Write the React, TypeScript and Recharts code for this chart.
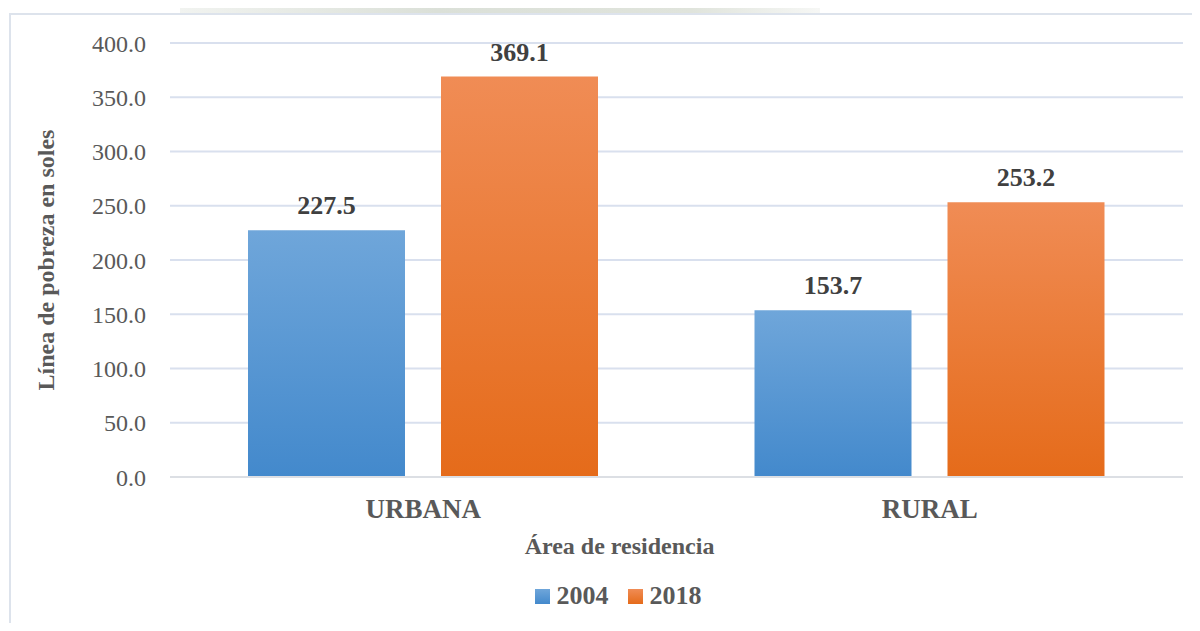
import React from 'react'
import { BarChart, Bar, XAxis, YAxis, CartesianGrid, Legend, LabelList } from 'recharts';

const areas = ['URBANA', 'RURAL'];
const values2004 = [227.5, 153.7];
const values2018 = [369.1, 253.2];
const yTicks = [0, 50, 100, 150, 200, 250, 300, 350, 400];

const data = areas.map((area, i) => ({ area, y2004: values2004[i], y2018: values2018[i] }));

const FONT = 'Liberation Serif, Times New Roman, serif';

const LegendBox = () => (
  <div style={{ display: 'flex', justifyContent: 'center', alignItems: 'center', height: 30, marginLeft: 33, fontFamily: FONT, fontWeight: 'bold', fontSize: 26, color: '#595959' }}>
    <span style={{ width: 15, height: 15, background: 'linear-gradient(#6fa6da, #4389cc)', marginRight: 7 }} />
    <span style={{ marginRight: 19 }}>2004</span>
    <span style={{ width: 15, height: 15, background: 'linear-gradient(#f08c55, #e56b1a)', marginRight: 7 }} />
    <span>2018</span>
  </div>
);

const App = () => {
  return (
    <div style={{ position: 'relative', width: 1200, height: 631, margin: -8, background: '#fff', overflow: 'hidden' }}>
      <div style={{ position: 'absolute', left: 180, top: 0, width: 640, height: 13, background: 'linear-gradient(90deg, #f1f3f0, #dbe0d8 40%, #e0e4dc 80%, #f6f7f5)' }} />
      <div style={{ position: 'absolute', left: 9, top: 13, width: 1300, height: 700, border: '2px solid #dde3ec' }} />
      <div style={{ position: 'absolute', left: 0, top: 0 }}>
        <BarChart width={1200} height={631} data={data}
          margin={{ top: 43, right: 17, bottom: 20, left: 20 }}
          barGap={36} barSize={157}>
          <defs>
            <linearGradient id="g2004" x1="0" y1="0" x2="0" y2="1">
              <stop offset="0%" stopColor="#6fa6da" />
              <stop offset="100%" stopColor="#4389cc" />
            </linearGradient>
            <linearGradient id="g2018" x1="0" y1="0" x2="0" y2="1">
              <stop offset="0%" stopColor="#f08c55" />
              <stop offset="100%" stopColor="#e56b1a" />
            </linearGradient>
          </defs>
          <CartesianGrid vertical={false} stroke="#d9e0ee" strokeWidth={2} />
          <XAxis dataKey="area" height={104} tickLine={false} tickSize={0} tickMargin={22}
            axisLine={{ stroke: '#dcdfe4', strokeWidth: 2 }}
            tick={{ fill: '#595959', fontSize: 27, fontWeight: 'bold', fontFamily: FONT }}
            label={{ value: 'Área de residencia', position: 'insideBottom', offset: 27, dx: -57, fill: '#595959', fontSize: 24, fontWeight: 'bold', fontFamily: FONT }} />
          <YAxis width={150} domain={[0, 400]} ticks={yTicks} tickLine={false} axisLine={false}
            tickSize={0} tickMargin={24} tickFormatter={(v: number) => v.toFixed(1)}
            tick={{ fill: '#595959', fontSize: 24, fontFamily: FONT }}
            label={{ value: 'Línea de pobreza en soles', angle: -90, position: 'insideLeft', offset: 25, fill: '#595959', fontSize: 24, fontWeight: 'bold', fontFamily: FONT, style: { textAnchor: 'middle' } }} />
          <Legend verticalAlign="bottom" content={() => <LegendBox />} />
          <Bar dataKey="y2004" name="2004" fill="url(#g2004)" isAnimationActive={false}>
            <LabelList dataKey="y2004" position="top" offset={16} formatter={(v: any) => Number(v).toFixed(1)}
              style={{ fill: '#404040', fontSize: 26, fontWeight: 'bold', fontFamily: FONT }} />
          </Bar>
          <Bar dataKey="y2018" name="2018" fill="url(#g2018)" isAnimationActive={false}>
            <LabelList dataKey="y2018" position="top" offset={16} formatter={(v: any) => Number(v).toFixed(1)}
              style={{ fill: '#404040', fontSize: 26, fontWeight: 'bold', fontFamily: FONT }} />
          </Bar>
        </BarChart>
      </div>
    </div>
  );
}

export default App
